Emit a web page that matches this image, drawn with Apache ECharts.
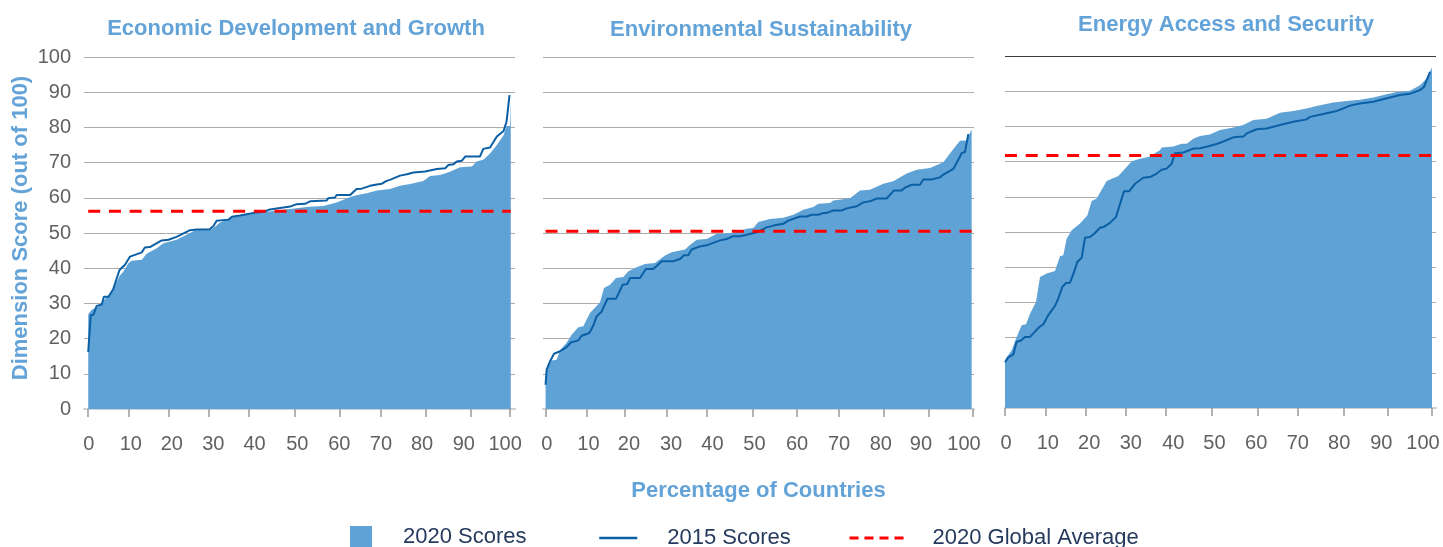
<!DOCTYPE html>
<html><head><meta charset="utf-8">
<script src="https://cdn.jsdelivr.net/npm/echarts@6/dist/echarts.min.js"></script>
<style>html,body{margin:0;padding:0;background:#fff}#c{width:1443px;height:547px}</style>
</head><body><div id="c"></div>
<script>
const panelTitles = ['Economic Development and Growth', 'Environmental Sustainability', 'Energy Access and Security'];
const xTickLabels = [0, 10, 20, 30, 40, 50, 60, 70, 80, 90, 100];
const yAxisName = 'Dimension Score (out of 100)';
const xAxisName = 'Percentage of Countries';
const legendNames = ['2020 Scores', '2015 Scores', '2020 Global Average'];

// [percentage of countries, score]
const econ2020 = [[0,27.0],[0.8,28.1],[2.8,29.5],[4.4,31.9],[5.9,33.8],[7.4,37.8],[8.3,39.0],[9.5,41.4],[10.3,42.1],[12.7,42.4],[13.8,44.1],[16.2,45.7],[17.8,47.1],[20.9,48.1],[24.1,50.0],[25.3,50.8],[29.2,51.0],[31.2,53.0],[33.6,54.3],[37.5,55.2],[41.5,55.9],[45.4,56.5],[47.8,56.8],[51.7,57.4],[55.6,57.7],[58.8,58.7],[62.0,60.2],[63.5,60.7],[65.9,61.3],[68.3,62.1],[71.4,62.5],[73.8,63.4],[76.2,63.9],[79.3,64.8],[80.9,66.2],[83.3,66.5],[85.6,67.4],[88.0,68.7],[90.8,68.9],[91.9,70.3],[93.5,70.8],[95.1,72.6],[96.7,75.0],[98.3,77.8],[99.0,80.4],[99.8,80.4],[100,87.7]];
const econ2015 = [[0,16.2],[0.6,26.7],[1.2,26.7],[2.0,29.3],[3.2,29.7],[3.7,31.9],[4.8,31.9],[5.9,34.0],[7.4,39.5],[8.7,41.0],[9.9,43.3],[12.7,44.5],[13.4,45.9],[14.6,46.0],[17.4,47.9],[19.0,48.1],[20.9,48.9],[24.1,50.8],[25.7,51.0],[28.8,51.1],[29.6,51.9],[30.4,53.5],[33.2,53.8],[34.0,54.6],[35.9,55.0],[39.1,55.7],[41.8,56.1],[43.0,56.7],[45.4,57.1],[47.8,57.5],[49.3,58.2],[51.3,58.3],[52.5,59.0],[56.4,59.2],[56.8,59.9],[58.4,60.1],[58.8,60.8],[62.0,60.8],[63.5,62.5],[64.7,62.6],[66.7,63.4],[68.3,63.8],[69.5,64.0],[70.6,64.8],[71.4,65.1],[73.8,66.3],[75.4,66.7],[77.0,67.2],[79.7,67.5],[82.5,68.2],[84.5,68.4],[85.2,69.3],[86.4,69.5],[87.2,70.3],[88.4,70.5],[89.2,71.7],[92.7,71.7],[93.5,73.9],[95.1,74.3],[96.7,77.4],[98.3,79.0],[99.0,81.6],[99.7,89.2]];
const econAvg = 56.2;

const env2020 = [[0,7.4],[0.26,11.2],[1.43,13.8],[2.60,14.0],[3.38,16.7],[4.94,18.8],[6.11,21.1],[7.67,23.2],[8.84,23.5],[10.40,27.3],[12.75,30.3],[13.68,34.4],[15.09,35.3],[16.49,37.2],[18.21,37.5],[19.38,39.1],[21.33,40.3],[23.28,41.2],[25.62,41.5],[27.96,43.6],[29.52,44.5],[32.64,45.3],[33.81,46.6],[35.38,48.1],[37.72,48.3],[40.06,49.8],[43.96,50.0],[47.08,51.2],[48.64,51.4],[49.81,53.1],[52.54,54.0],[55.66,54.3],[58.00,55.2],[60.35,56.6],[62.69,57.4],[63.86,58.3],[66.59,58.5],[67.37,59.2],[71.27,59.9],[73.61,62.1],[75.95,62.3],[79.07,64.0],[81.41,64.7],[84.54,66.9],[86.88,68.0],[90.0,68.5],[93.12,70.1],[95.07,73.2],[97.02,76.2],[98.58,76.3],[99.75,79.5]];
const env2015 = [[0,6.9],[0.26,11.2],[1.04,13.5],[1.98,15.7],[3.38,16.4],[4.94,17.6],[5.88,18.9],[7.67,19.5],[8.45,20.8],[10.25,21.6],[11.18,23.7],[11.96,26.3],[13.14,27.7],[14.46,31.3],[16.49,31.3],[18.05,35.3],[19.14,35.5],[19.77,37.2],[22.11,37.2],[23.51,39.8],[25.23,39.8],[27.18,42.0],[29.91,42.0],[31.47,42.6],[32.41,43.7],[33.42,43.7],[34.20,45.3],[36.16,46.2],[37.72,46.5],[40.84,47.9],[42.40,48.3],[43.96,49.1],[45.52,49.1],[47.08,49.5],[49.42,50.2],[51.76,51.6],[53.32,52.1],[55.66,52.6],[56.83,53.5],[59.57,54.7],[61.13,54.7],[62.30,55.2],[63.86,55.2],[65.03,55.7],[65.81,55.7],[67.37,56.4],[69.32,56.4],[70.49,57.0],[72.83,57.6],[74.39,58.7],[75.95,59.0],[77.51,59.8],[79.86,59.8],[81.57,62.1],[83.37,62.1],[84.15,62.9],[85.71,63.7],[87.66,63.7],[88.44,65.2],[90.39,65.2],[92.34,65.8],[93.12,66.6],[95.46,68.2],[96.63,70.8],[97.41,72.7],[98.19,73.0],[98.97,78.1]];
const envAvg = 50.5;

const energy2020 = [[0,13.5],[0.23,14.1],[1.56,16.4],[2.73,20.2],[3.90,23.5],[4.92,23.8],[5.86,26.8],[7.26,30.1],[8.20,37.2],[9.76,38.2],[11.71,38.9],[12.88,43.1],[13.66,43.4],[14.44,48.1],[15.61,50.5],[17.57,52.4],[19.28,54.7],[20.30,58.8],[21.47,59.5],[23.81,64.5],[26.54,65.9],[28.10,68.0],[29.67,70.1],[31.62,70.8],[33.57,71.3],[36.30,73.2],[36.69,74.0],[39.42,74.3],[41.38,75.1],[42.55,75.1],[44.11,76.5],[45.67,77.3],[48.01,77.7],[50.35,79.0],[53.48,79.7],[55.82,80.4],[58.16,81.8],[61.28,82.2],[64.41,83.9],[67.53,84.4],[70.65,85.1],[72.99,85.8],[76.90,86.8],[80.02,87.2],[83.14,87.6],[86.26,88.2],[89.39,89.1],[91.73,89.8],[94.85,90.1],[97.19,91.7],[98.76,93.6],[100,96.7]];
const energy2015 = [[0,13.0],[0.23,13.4],[0.78,14.4],[1.95,15.2],[2.73,18.8],[3.67,19.1],[4.68,20.2],[5.86,20.2],[6.64,21.2],[8.04,23.0],[8.98,23.8],[10.15,26.4],[11.71,29.0],[12.49,31.1],[13.43,34.4],[14.29,35.5],[15.22,35.6],[16.16,38.6],[16.94,41.5],[17.96,42.7],[18.74,48.4],[19.91,48.6],[21.08,49.7],[22.25,51.2],[23.03,51.4],[24.59,52.6],[26.00,54.3],[27.87,61.6],[29.12,61.6],[30.45,63.7],[32.40,65.4],[33.96,65.6],[35.52,66.6],[36.69,67.7],[37.86,68.0],[39.03,69.4],[39.81,72.4],[41.77,72.6],[44.11,73.7],[45.67,73.8],[47.23,74.2],[49.57,75.0],[51.13,75.7],[53.48,76.9],[55.82,77.1],[56.60,78.0],[58.94,79.2],[61.28,79.4],[64.41,80.4],[67.53,81.3],[70.65,82.0],[71.43,82.7],[74.55,83.5],[77.68,84.4],[79.24,85.1],[80.80,85.9],[83.14,86.5],[86.26,87.0],[87.83,87.5],[90.17,88.2],[92.51,88.9],[94.85,89.3],[97.19,90.3],[98.13,91.2],[99.54,95.5]];
const energyAvg = 71.7;

const scores2020 = [econ2020, env2020, energy2020];
const scores2015 = [econ2015, env2015, energy2015];
const averages = [econAvg, envAvg, energyAvg];

// ---- layout / style (not data) ----
const AREA = '#5fa2d6', LINE = '#0b5fa5', RED = '#ff0000', BLUE_TXT = '#63a3d8', GRAY_TXT = '#616161';
const FONT = '"Liberation Sans", Arial, sans-serif';

const grids = [
  {left: 84, top: 57, width: 431, height: 352, outerBoundsMode: 'none'},
  {left: 543, top: 57, width: 431, height: 352, outerBoundsMode: 'none'},
  {left: 1005, top: 56, width: 431, height: 352, outerBoundsMode: 'none'}
];
const xRanges = [[-1, 101], [-0.6, 100.3], [0, 100.94]];
// where the original (spreadsheet) axis put its tick marks and its labels, in axis units
const tickSpots = [
  [0, 9.59, 19.12, 28.52, 37.99, 48.95, 59.43, 69.30, 79.95, 90.44, 99.83],
  [0.03, 9.54, 18.53, 28.27, 37.63, 48.40, 58.87, 68.70, 79.07, 89.61, 100.0],
  [0, 9.44, 18.90, 28.27, 37.64, 48.41, 59.18, 68.55, 79.39, 89.53, 100.0]
];
const labelSpots = [
  [0.12, 10.08, 19.79, 29.61, 39.36, 49.47, 59.41, 69.27, 79.01, 88.88, 98.65],
  [0.27, 10.05, 19.53, 29.37, 39.08, 48.91, 58.87, 68.70, 78.48, 87.89, 97.96],
  [0.23, 10.02, 19.72, 29.46, 39.42, 49.06, 58.83, 68.57, 78.27, 88.13, 97.90]
];
const titleCenters = [[296, 18], [761, 19], [1226, 14]];

const gridLineColors = i => {
  const c = new Array(11).fill('#acacac');
  if (i === 2) c[10] = '#3c3c3c';
  return c;
};
const nearestIdx = (arr, v) => {
  let b = 0;
  for (let k = 1; k < arr.length; k++) if (Math.abs(arr[k] - v) < Math.abs(arr[b] - v)) b = k;
  return b;
};

const option = {
  animation: false,
  backgroundColor: '#fff',
  title: panelTitles.map((t, i) => ({
    text: t, left: titleCenters[i][0], top: titleCenters[i][1], textAlign: 'center', padding: 0,
    textStyle: {fontFamily: FONT, fontSize: 22, fontWeight: 'bold', color: BLUE_TXT}
  })),
  grid: grids,
  xAxis: grids.map((g, i) => ({
    type: 'value', gridIndex: i, min: xRanges[i][0], max: xRanges[i][1],
    offset: 5,
    name: i === 1 ? xAxisName : '', nameLocation: 'middle', nameGap: 66,
    nameTextStyle: {fontFamily: FONT, fontSize: 22, fontWeight: 'bold', color: BLUE_TXT},
    axisLine: {show: true, lineStyle: {color: '#cfcfcf', width: 2}},
    axisTick: {show: true, customValues: tickSpots[i], length: 8, lineStyle: {color: '#9a9a9a', width: 1.5}},
    axisLabel: {
      show: true, customValues: labelSpots[i], margin: 20, fontFamily: FONT, fontSize: 20, color: GRAY_TXT,
      formatter: v => String(xTickLabels[nearestIdx(labelSpots[i], v)])
    },
    splitLine: {show: false}
  })),
  yAxis: grids.map((g, i) => ({
    type: 'value', gridIndex: i, min: 0, max: 100, interval: 10,
    name: i === 0 ? yAxisName : '', nameLocation: 'middle', nameGap: 52,
    nameTextStyle: {fontFamily: FONT, fontSize: 22, fontWeight: 'bold', color: BLUE_TXT, padding: [0, 0, 0, 10]},
    axisLine: {show: false}, axisTick: {show: false},
    axisLabel: {show: i === 0, margin: 13, fontFamily: FONT, fontSize: 20, color: GRAY_TXT},
    splitLine: {show: true, lineStyle: {color: gridLineColors(i), width: 1.2}}
  })),
  legend: [
    {left: 350, top: 526, padding: 0, itemWidth: 22, itemHeight: 22, data: [{name: legendNames[0], icon: 'rect'}],
     textStyle: {fontFamily: FONT, fontSize: 22, color: '#263a5e', padding: [0, 0, 0, 26]}},
    {left: 598, top: 527, padding: 0, itemWidth: 38, itemHeight: 14,
     data: [{name: legendNames[1], itemStyle: {opacity: 0}, lineStyle: {width: 2.5}}],
     textStyle: {fontFamily: FONT, fontSize: 22, color: '#263a5e', padding: [0, 0, 0, 25]}},
    {left: 848, top: 527, padding: 0, itemWidth: 58, itemHeight: 14,
     data: [{name: legendNames[2], itemStyle: {opacity: 0}, lineStyle: {type: [9, 6], width: 3}}],
     textStyle: {fontFamily: FONT, fontSize: 22, color: '#263a5e', padding: [0, 0, 0, 20]}}
  ],
  series: []
};

for (let i = 0; i < 3; i++) {
  option.series.push({
    name: legendNames[0], type: 'line', xAxisIndex: i, yAxisIndex: i, data: scores2020[i],
    symbol: 'none', color: AREA, itemStyle: {color: AREA},
    lineStyle: {width: 0, color: AREA}, areaStyle: {color: AREA, opacity: 1}, z: 2
  });
  option.series.push({
    name: legendNames[1], type: 'line', xAxisIndex: i, yAxisIndex: i, data: scores2015[i],
    symbol: 'none', color: LINE, itemStyle: {color: LINE},
    lineStyle: {width: 2, color: LINE}, z: 3
  });
  option.series.push({
    name: legendNames[2], type: 'line', xAxisIndex: i, yAxisIndex: i,
    data: [[0, averages[i]], [100, averages[i]]],
    symbol: 'none', color: RED, itemStyle: {color: RED},
    lineStyle: {width: 3, color: RED, type: [12, 8.7]}, z: 4
  });
}

const chart = echarts.init(document.getElementById('c'), null, {renderer: 'canvas'});
chart.setOption(option);
</script>
</body></html>
